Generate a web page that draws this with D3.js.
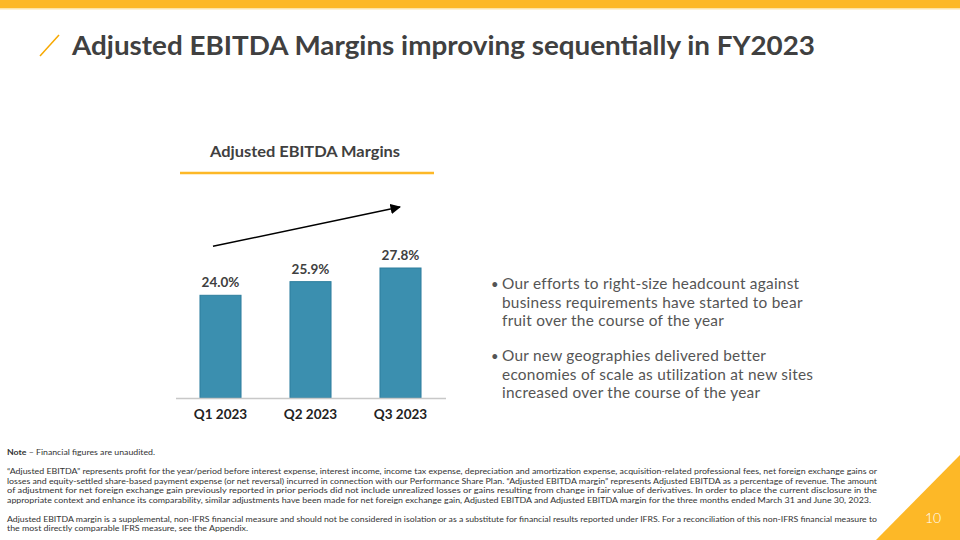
<!DOCTYPE html>
<html>
<head>
<meta charset="utf-8">
<script src="https://cdn.jsdelivr.net/npm/d3@7"></script>
<style>
  body { margin: 0; background: #fff; }
  svg { display: block; font-family: Lato, 'DejaVu Sans', sans-serif; }
</style>
</head>
<body>
<svg width="960" height="540"></svg>
<script>
// Chart data
const quarters = ['Q1 2023', 'Q2 2023', 'Q3 2023']
const margins = [24.0, 25.9, 27.8]

const titleText = 'Adjusted EBITDA Margins improving sequentially in FY2023'
const chartTitle = 'Adjusted EBITDA Margins'

const bulletLines = [
  ['Our efforts to right-size headcount against', 'business requirements have started to bear', 'fruit over the course of the year'],
  ['Our new geographies delivered better', 'economies of scale as utilization at new sites', 'increased over the course of the year'],
]

const noteLines = [
  '“Adjusted EBITDA” represents profit for the year/period before interest expense, interest income, income tax expense, depreciation and amortization expense, acquisition-related professional fees, net foreign exchange gains or',
  'losses and equity-settled share-based payment expense (or net reversal) incurred in connection with our Performance Share Plan. “Adjusted EBITDA margin” represents Adjusted EBITDA as a percentage of revenue. The amount',
  'of adjustment for net foreign exchange gain previously reported in prior periods did not include unrealized losses or gains resulting from change in fair value of derivatives. In order to place the current disclosure in the',
  'appropriate context and enhance its comparability, similar adjustments have been made for net foreign exchange gain, Adjusted EBITDA and Adjusted EBITDA margin for the three months ended March 31 and June 30, 2023.',
  'Adjusted EBITDA margin is a supplemental, non-IFRS financial measure and should not be considered in isolation or as a substitute for financial results reported under IFRS. For a reconciliation of this non-IFRS financial measure to',
  'the most directly comparable IFRS measure, see the Appendix.',
]
const noteWidths = [870, 870, 870, 864, 870, 241]
const noteY = [474, 484, 493, 503, 522, 531]

const orange = '#FDB827'
const grey = '#404040'

const svg = d3.select('svg')

// Top band
svg.append('rect').attr('x', 0).attr('y', 0).attr('width', 960).attr('height', 8).attr('fill', orange)
svg.append('rect').attr('x', 0).attr('y', 8).attr('width', 960).attr('height', 1.5).attr('fill', '#FDE3A6')

// Bottom-right triangle + page number
svg.append('path').attr('d', 'M876,540 L960,455 L960,540 Z').attr('fill', orange)
svg.append('text').attr('x', 933).attr('y', 523).attr('text-anchor', 'middle')
  .attr('font-size', 14).attr('fill', '#fff').attr('font-weight', 300)
  .text('10')

// Title with slash
svg.append('line').attr('x1', 40).attr('y1', 56).attr('x2', 59).attr('y2', 35)
  .attr('stroke', '#F7A800').attr('stroke-width', 1.5)
svg.append('text').attr('x', 72).attr('y', 55)
  .attr('font-size', 27).attr('font-weight', 'bold').attr('fill', grey)
  .attr('textLength', 743).attr('lengthAdjust', 'spacingAndGlyphs')
  .text(titleText)

// Chart heading
svg.append('text').attr('x', 210).attr('y', 157)
  .attr('font-size', 16).attr('font-weight', 'bold').attr('fill', grey)
  .attr('textLength', 190).attr('lengthAdjust', 'spacingAndGlyphs')
  .text(chartTitle)
svg.append('line').attr('x1', 180).attr('x2', 434).attr('y1', 173).attr('y2', 173)
  .attr('stroke', orange).attr('stroke-width', 2.5)

// Scales
const x = d3.scaleBand().domain(quarters).range([175.5, 445.5]).paddingInner(0.544).paddingOuter(0.272)
const y = d3.scaleLinear().domain([9.7, 30]).range([398, 252.2])

// Bars
svg.append('g').selectAll('rect')
  .data(margins)
  .join('rect')
  .attr('x', (d, i) => x(quarters[i]))
  .attr('y', (d) => y(d))
  .attr('width', x.bandwidth())
  .attr('height', (d) => y.range()[0] - y(d))
  .attr('fill', '#3B8FAF')
  .attr('stroke', '#2E7E9E')
  .attr('stroke-width', 1)

// Value labels
svg.append('g').selectAll('text')
  .data(margins)
  .join('text')
  .attr('x', (d, i) => x(quarters[i]) + x.bandwidth() / 2)
  .attr('y', (d) => y(d) - 8)
  .attr('text-anchor', 'middle')
  .attr('font-size', 13.5).attr('font-weight', 'bold').attr('fill', grey)
  .text((d) => d.toFixed(1) + '%')

// X axis
const xAxis = svg.append('g')
  .attr('transform', `translate(0,${y.range()[0]})`)
  .call(d3.axisBottom(x).tickSize(0).tickSizeOuter(0).tickPadding(11))
xAxis.select('.domain').attr('stroke', '#C8C8C8').attr('stroke-width', 1.5)
xAxis.selectAll('text')
  .attr('font-size', 13.5).attr('font-weight', 'bold').attr('fill', '#222')
  .attr('font-family', 'Lato, sans-serif')

// Trend arrow
svg.append('defs').append('marker')
  .attr('id', 'head').attr('viewBox', '0 0 10 10').attr('refX', 9).attr('refY', 5)
  .attr('markerWidth', 7).attr('markerHeight', 7).attr('orient', 'auto')
  .append('path').attr('d', 'M0,0 L10,5 L0,10 Z').attr('fill', '#000')
svg.append('line')
  .attr('x1', x(quarters[0]) + 13).attr('y1', y(margins[0]) - 49)
  .attr('x2', x(quarters[2]) + 20).attr('y2', y(margins[2]) - 61)
  .attr('stroke', '#000').attr('stroke-width', 1.5).attr('marker-end', 'url(#head)')

// Bullets
const bulletTop = [289, 361]
bulletLines.forEach((lines, b) => {
  svg.append('text').attr('x', 491).attr('y', bulletTop[b])
    .attr('font-size', 13).attr('fill', '#555').text('•')
  lines.forEach((line, i) => {
    svg.append('text')
      .attr('x', 502).attr('y', bulletTop[b] + i * 18.5)
      .attr('font-size', 15.4).attr('fill', '#555')
      .attr('letter-spacing', 0.25)
      .text(line)
  })
})

// Notes
const note = svg.append('text').attr('x', 7).attr('y', 455)
  .attr('font-size', 7.5).attr('fill', '#333')
  .attr('textLength', 148).attr('lengthAdjust', 'spacingAndGlyphs')
note.append('tspan').attr('font-weight', 'bold').text('Note')
note.append('tspan').text(' – Financial figures are unaudited.')

svg.append('g').selectAll('text')
  .data(noteLines)
  .join('text')
  .attr('x', 7)
  .attr('y', (d, i) => noteY[i])
  .attr('font-size', 7.5).attr('fill', '#333')
  .attr('textLength', (d, i) => noteWidths[i]).attr('lengthAdjust', 'spacingAndGlyphs')
  .text((d) => d)
</script>
</body>
</html>
